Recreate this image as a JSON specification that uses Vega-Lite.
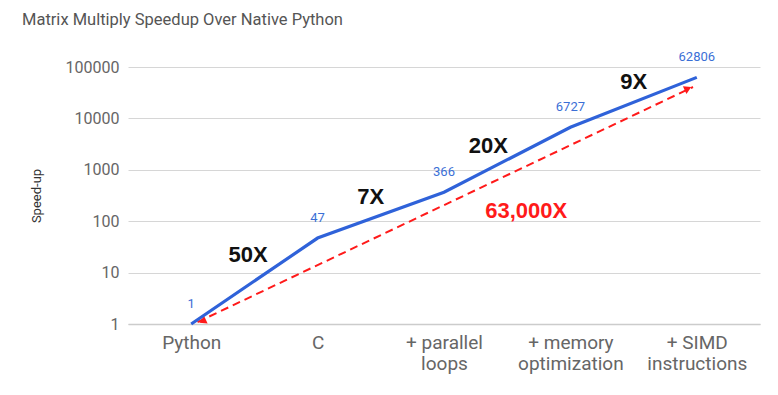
{
  "$schema": "https://vega.github.io/schema/vega-lite/v6.json",
  "autosize": "none",
  "width": 632,
  "height": 257,
  "padding": {"left": 128, "top": 67, "right": 18, "bottom": 71},
  "background": "white",
  "title": {
    "text": "Matrix Multiply Speedup Over Native Python",
    "anchor": "start",
    "frame": "group",
    "dx": -106,
    "offset": 23,
    "font": "Roboto",
    "fontSize": 16.5,
    "fontWeight": "normal",
    "color": "#555555"
  },
  "config": {
    "view": {"stroke": null},
    "font": "Roboto"
  },
  "datasets": {
    "series": [
      {"idx": 0, "stage": "Python", "speedup": 1},
      {"idx": 1, "stage": "C", "speedup": 47},
      {"idx": 2, "stage": "+ parallel loops", "speedup": 366},
      {"idx": 3, "stage": "+ memory optimization", "speedup": 6727},
      {"idx": 4, "stage": "+ SIMD instructions", "speedup": 62806}
    ],
    "steps": [
      {"pos": 0.45, "val": 22, "text": "50X"},
      {"pos": 1.42, "val": 296, "text": "7X"},
      {"pos": 2.35, "val": 2900, "text": "20X"},
      {"pos": 3.5, "val": 51000, "text": "9X"}
    ],
    "total": [
      {"pos": 2.65, "val": 158, "text": "63,000X"}
    ],
    "arrow": [
      {"x1": 0.05, "y1": 1.09, "x2": 3.97, "y2": 40800}
    ],
    "heads": [
      {"pos": 0.09, "val": 1.13, "shape": "triangle-left"},
      {"pos": 3.93, "val": 38000, "shape": "triangle-right"}
    ]
  },
  "layer": [
    {
      "data": {"name": "arrow"},
      "mark": {"type": "rule", "color": "#ff1a1a", "strokeWidth": 2, "strokeDash": [8, 5]},
      "encoding": {
        "x": {"field": "x1", "type": "quantitative", "scale": {"domain": [-0.5, 4.5], "nice": false, "zero": false},
          "axis": {
            "values": [0, 1, 2, 3, 4],
            "grid": false,
            "ticks": false,
            "domain": true,
            "domainColor": "#cccccc",
            "domainWidth": 1.5,
            "labelFont": "Roboto",
            "labelFontSize": 19,
            "labelColor": "#666666",
            "labelPadding": 9,
            "labelLineHeight": 21,
            "labelExpr": "datum.value == 0 ? 'Python' : datum.value == 1 ? 'C' : datum.value == 2 ? ['+ parallel', 'loops'] : datum.value == 3 ? ['+ memory', 'optimization'] : ['+ SIMD', 'instructions']",
            "title": null
          }
        },
        "x2": {"field": "x2"},
        "y": {"field": "y1", "type": "quantitative",
          "scale": {"type": "log", "domain": [1, 100000], "nice": false},
          "axis": {
            "values": [1, 10, 100, 1000, 10000, 100000],
            "format": "d",
            "grid": true,
            "gridColor": "#d6d6d6",
            "ticks": false,
            "domain": false,
            "labelFont": "Roboto",
            "labelFontSize": 16,
            "labelColor": "#666666",
            "labelPadding": 9,
            "title": "Speed-up",
            "titleFont": "Roboto",
            "titleFontSize": 13,
            "titleFontWeight": "normal",
            "titleColor": "#333333",
            "titlePadding": 22
          }
        },
        "y2": {"field": "y2"}
      }
    },
    {
      "data": {"name": "heads"},
      "mark": {"type": "point", "filled": true, "color": "#ff1a1a", "opacity": 1, "size": 70, "angle": 335},
      "encoding": {
        "x": {"field": "pos", "type": "quantitative"},
        "y": {"field": "val", "type": "quantitative"},
        "shape": {"field": "shape", "type": "nominal", "scale": null, "legend": null}
      }
    },
    {
      "data": {"name": "series"},
      "mark": {"type": "line", "color": "#2f62d9", "strokeWidth": 3.2},
      "encoding": {
        "x": {"field": "idx", "type": "quantitative"},
        "y": {"field": "speedup", "type": "quantitative"}
      }
    },
    {
      "data": {"name": "series"},
      "mark": {"type": "text", "color": "#3b6fd6", "fontSize": 13, "font": "Roboto", "dy": -20, "baseline": "middle"},
      "encoding": {
        "x": {"field": "idx", "type": "quantitative"},
        "y": {"field": "speedup", "type": "quantitative"},
        "text": {"field": "speedup", "type": "quantitative", "format": "d"}
      }
    },
    {
      "data": {"name": "steps"},
      "mark": {"type": "text", "color": "#111111", "fontSize": 22, "fontWeight": "bold", "font": "Liberation Sans", "baseline": "middle"},
      "encoding": {
        "x": {"field": "pos", "type": "quantitative"},
        "y": {"field": "val", "type": "quantitative"},
        "text": {"field": "text", "type": "nominal"}
      }
    },
    {
      "data": {"name": "total"},
      "mark": {"type": "text", "color": "#ff1a1a", "fontSize": 22, "fontWeight": "bold", "font": "Liberation Sans", "baseline": "middle"},
      "encoding": {
        "x": {"field": "pos", "type": "quantitative"},
        "y": {"field": "val", "type": "quantitative"},
        "text": {"field": "text", "type": "nominal"}
      }
    }
  ]
}
